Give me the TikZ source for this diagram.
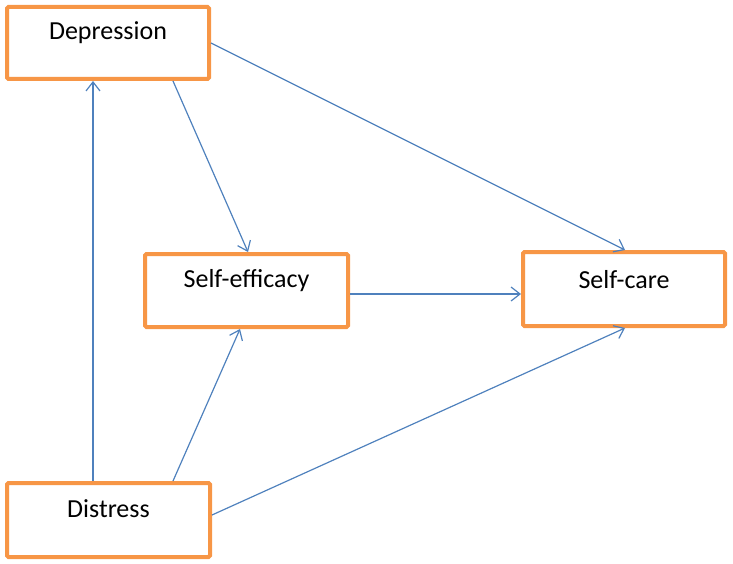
\documentclass[tikz,border=0pt]{standalone}
\usepackage{fontspec}
\setmainfont{Carlito}
\usetikzlibrary{arrows.meta}
\definecolor{boxorange}{HTML}{F79646}
\definecolor{arrowblue}{HTML}{4F81BD}
\begin{document}
\begin{tikzpicture}[x=1pt,y=-1pt,
  box/.style={draw=boxorange,line width=4pt,rounded corners=1.5pt,fill=white,minimum width=202pt,minimum height=72pt,inner sep=0pt},
  lbl/.style={font=\fontsize{26}{31}\selectfont,inner sep=0pt},
  link/.style={draw=arrowblue,line width=1.2pt,-{Straight Barb[length=9pt,width=14pt,line width=1.2pt]}}]
\useasboundingbox (0,0) rectangle (733,564);
\node[box] (dep) at (108,43) {};
\node[box,minimum width=203pt,minimum height=73pt] (eff) at (246.5,290.5) {};
\node[box,minimum width=202pt,minimum height=74pt] (care) at (624,289) {};
\node[box,minimum width=203pt,minimum height=74pt] (dist) at (108.5,520) {};
\node[lbl] (tdep) at ([yshift=10pt]dep.center) {Depression};
\node[lbl] (teff) at ([yshift=10pt]eff.center) {Self-efficacy};
\node[lbl] (tcare) at ([yshift=9.5pt]care.center) {Self-care};
\node[lbl] (tdist) at ([yshift=11pt]dist.center) {Distress};
\draw[link] ([xshift=-15.5pt]dist.north) -- ([xshift=-15pt]dep.south);
\draw[link] ([xshift=65pt]dep.south) -- ([xshift=1.5pt]eff.north);
\draw[link] (dep.east) -- ([xshift=1pt]care.north);
\draw[link] ([yshift=-3.5pt]eff.east) -- ([yshift=-5pt]care.west);
\draw[link] ([xshift=64.5pt]dist.north) -- ([xshift=-6.5pt]eff.south);
\draw[link] ([yshift=5pt]dist.east) -- ([xshift=1pt]care.south);
\end{tikzpicture}
\end{document}
